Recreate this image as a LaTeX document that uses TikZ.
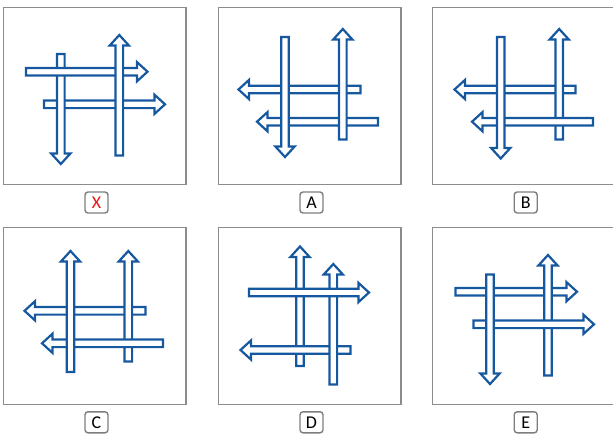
\documentclass[tikz,border=0pt]{standalone}
\usepackage{fontspec}
\setsansfont{Carlito}
\usepackage{tikz}
\usetikzlibrary{positioning}
\usepackage{xcolor}
\definecolor{barblue}{RGB}{22,88,160}
\definecolor{framegray}{RGB}{140,140,140}
\definecolor{tagred}{RGB}{235,20,20}
\tikzset{
  frame/.style = {draw=framegray, line width=1.3pt},
  tag/.style   = {draw=framegray!90!black, rounded corners=3pt, fill=white, line width=1.4pt,
                  minimum width=23pt, minimum height=21pt, inner sep=0pt,
                  font=\sffamily\fontsize{18}{18}\selectfont},
  bar/.style   = {draw=barblue, fill=white, line width=2.2pt, line join=miter},
}
% horizontal arrow: start x, tip x, y
\newcommand{\harr}[3]{%
  \pgfmathsetmacro{\hb}{#2-sign(#2-#1)*10.5}
  \filldraw[bar] (#1,#3-3.8) -- (\hb,#3-3.8) -- (\hb,#3-9.6) -- (#2,#3)
    -- (\hb,#3+9.6) -- (\hb,#3+3.8) -- (#1,#3+3.8) -- cycle;}
% vertical arrow: x, start y, tip y
\newcommand{\varr}[3]{%
  \pgfmathsetmacro{\vb}{#3-sign(#3-#2)*10.5}
  \filldraw[bar] (#1-3.8,#2) -- (#1-3.8,\vb) -- (#1-9.6,\vb) -- (#1,#3)
    -- (#1+9.6,\vb) -- (#1+3.8,\vb) -- (#1+3.8,#2) -- cycle;}
\begin{document}
\begin{tikzpicture}[x=1pt, y=-1pt]
  \useasboundingbox (0,0) rectangle (613,437);
  % frames and tags
  \foreach \bx/\by/\lab/\col in {3.5/7.5/X/tagred, 218.5/7.5/A/black, 432.7/7.5/B/black,
                                 3.5/227.3/C/black, 218.5/227.3/D/black, 432.7/227.3/E/black} {
    \draw[frame] (\bx,\by) rectangle ++(182.5,177);
    \node[tag, text=\col] (tag\lab) at (\bx+93,\by+195) {\lab};
  }
  % panel X
  \harr{44}{165}{104.3}
  \varr{60.8}{54}{164}
  \harr{26}{147.5}{71.7}
  \varr{119.3}{155.5}{35}
  % panel A
  \harr{360.5}{238.5}{89.5}
  \harr{378}{257}{121.7}
  \varr{285}{37}{157}
  \varr{342.8}{139.5}{29}
  % panel B
  \harr{575.5}{454.5}{89.5}
  \varr{559.2}{139.5}{29}
  \harr{593}{472}{121.7}
  \varr{500.7}{37}{158.5}
  % panel C
  \harr{145.5}{24.5}{310.8}
  \varr{128.3}{361.5}{251}
  \harr{163}{42}{343.3}
  \varr{70.5}{372}{251}
  % panel D
  \varr{300}{366}{246.5}
  \harr{350.5}{240.5}{350}
  \varr{333.3}{384.5}{264}
  \harr{249}{369}{292.5}
  % panel E
  \harr{455.5}{577}{291.7}
  \varr{548}{375.5}{255}
  \harr{473.5}{594}{324.3}
  \varr{490}{274.5}{384}
\end{tikzpicture}
\end{document}
